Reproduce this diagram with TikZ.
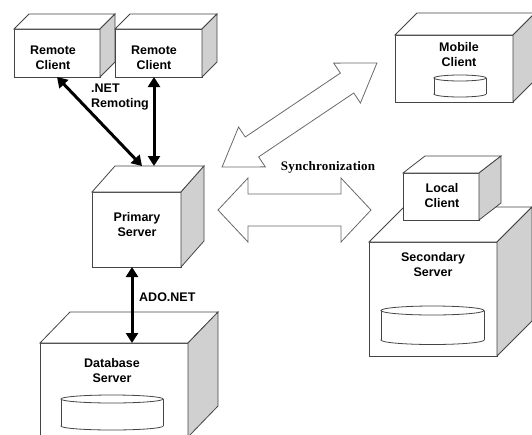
\documentclass[tikz,border=0pt]{standalone}
\usepackage{fontspec}
\setmainfont{Liberation Sans}
\newfontfamily\syncfont[LetterSpace=2]{Liberation Serif}
\usetikzlibrary{arrows.meta}
\definecolor{sidegray}{HTML}{D0D0D0}
\definecolor{edgegray}{HTML}{454545}
\definecolor{hollowgray}{HTML}{6A6A6A}

% top and right faces of a block, from its front node
\newcommand{\boxfaces}[3]{%
  \draw[boxline, fill=white] (#1.north west) -- ++(#2,-#3) -- ([shift={(#2,-#3)}]#1.north east) -- (#1.north east) -- cycle;
  \draw[boxline, fill=sidegray] (#1.north east) -- ++(#2,-#3) -- ([shift={(#2,-#3)}]#1.south east) -- (#1.south east) -- cycle;
}
% a disk drawn inside a block
\newcommand{\disk}[5]{%
  \draw[boxline, fill=white] (#1,#3) ellipse [x radius=#4, y radius=#5];
  \fill[white] (#1-#4,#2) rectangle (#1+#4,#3);
  \draw[boxline] (#1-#4,#2) -- (#1-#4,#3) (#1+#4,#2) -- (#1+#4,#3);
  \draw[boxline, fill=white] (#1,#2) ellipse [x radius=#4, y radius=#5];
}

\begin{document}
\begin{tikzpicture}[x=1pt,y=-1pt]
	\tikzset{boxline/.style = {draw=edgegray, line width=0.8pt, line join=miter},
		front/.style = {rectangle, boxline, fill=white, inner sep=0pt, outer sep=0pt},
		lbl/.style = {font=\fontsize{12.5}{15}\selectfont\bfseries, align=center, inner sep=0pt},
		link/.style = {line width=3pt, {Triangle[length=10pt,width=12pt]}-{Triangle[length=10pt,width=12pt]}},
		hollow/.style = {draw=hollowgray, line width=0.8pt, fill=white, line join=miter}}
	\clip (0,0) rectangle (532,434);
	% remote clients
	\node[front, minimum width=86, minimum height=48] (rc1) at (57,53) {};
	\boxfaces{rc1}{15}{15}
	\node[front, minimum width=87, minimum height=48] (rc2) at (158.5,53) {};
	\boxfaces{rc2}{15}{15}
	\node[lbl] (rc1-t) at (53,58) {Remote\\Client};
	\node[lbl] (rc2-t) at (154,58) {Remote\\Client};
	% primary server
	\node[front, minimum width=89, minimum height=75] (ps) at (136.5,229.5) {};
	\boxfaces{ps}{23}{26}
	\node[lbl] (ps-t) at (137,225) {Primary\\Server};
	% database server
	\node[front, minimum width=148, minimum height=94] (db) at (114,390) {};
	\boxfaces{db}{30}{31}
	\node[lbl] (db-t) at (112,371) {Database\\Server};
	\disk{112}{399}{426}{51}{4}
	% mobile client
	\node[front, minimum width=118, minimum height=67] (mc) at (454,68.5) {};
	\boxfaces{mc}{22}{22}
	\node[lbl] (mc-t) at (459,55) {Mobile\\Client};
	\disk{460}{78}{94}{26}{3}
	% secondary server with local client on top
	\node[front, minimum width=128, minimum height=114] (ss) at (433,299) {};
	\boxfaces{ss}{35}{35}
	\node[lbl] (ss-t) at (433,265) {Secondary\\Server};
	\disk{432.5}{310.5}{340}{51.5}{4.5}
	\node[front, minimum width=76, minimum height=47] (lc) at (441,196.5) {};
	\boxfaces{lc}{22}{17}
	\node[lbl] (lc-t) at (442,196) {Local\\Client};
	% remoting and ado.net links
	\coordinate (ps-back) at ([shift={(23,-26)}]ps.north west);
	\draw[link] (rc1.south) -- ([shift={(27,0)}]ps-back);
	\draw[link] ([shift={(-4.5,0)}]rc2.south) -- ([shift={(39,0)}]ps-back);
	\node[lbl, anchor=north west, align=left] (remoting) at (91,84) {.NET\\Remoting};
	\draw[link] ([shift={(-4.5,0)}]ps.south) -- ([shift={(-4.5,0)}]ps.south |- db.north);
	\node[lbl, anchor=west] (ado) at (139,297) {ADO.NET};
	% synchronization arrows
	\begin{scope}[shift={(299.5,115)}, rotate=33.9]
		\draw[hollow] (-93.3,0) -- (-57.3,-24) -- (-57.3,-12) -- (57.3,-12) -- (57.3,-24) -- (93.3,0)
			-- (57.3,24) -- (57.3,12) -- (-57.3,12) -- (-57.3,24) -- cycle;
	\end{scope}
	\begin{scope}[shift={(294.5,210)}]
		\draw[hollow] (-76.5,0) -- (-46.5,-32) -- (-46.5,-16) -- (46.5,-16) -- (46.5,-32) -- (76.5,0)
			-- (46.5,32) -- (46.5,16) -- (-46.5,16) -- (-46.5,32) -- cycle;
	\end{scope}
	\node[inner sep=0pt, font=\syncfont\fontsize{13}{15}\selectfont\bfseries] (sync) at (328,167) {Synchronization};
\end{tikzpicture}
\end{document}
